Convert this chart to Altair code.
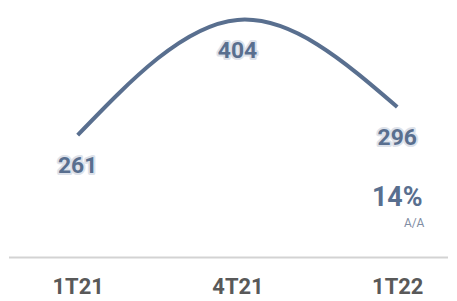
import altair as alt
import pandas as pd

quarters = ["1T21", "4T21", "1T22"]
values = [261, 404, 296]
growth_label = "14%"
growth_sub = "A/A"

df = pd.DataFrame({"q": quarters, "v": values})
last = df.iloc[[-1]].copy()
base_df = pd.DataFrame({"v": [109]})

LINE = "#596f8f"
W, H = 441, 250
YDOM = [109, 418]

x = alt.X("q:N", sort=quarters,
          scale=alt.Scale(type="point", range=[69, 390], padding=0),
          axis=alt.Axis(title=None, domain=False, ticks=False, grid=False,
                        labelAngle=0, labelFont="Roboto", labelFontSize=22,
                        labelFontWeight="bold", labelColor="#595959",
                        labelBaseline="alphabetic", labelPadding=36))
y = alt.Y("v:Q", scale=alt.Scale(domain=YDOM, nice=False, zero=False), axis=None)

baseline = alt.Chart(base_df).mark_rule(color="#d3d3d3", strokeWidth=2).encode(
    y=y, x=alt.value(0), x2=alt.value(W))

line = alt.Chart(df).mark_line(color=LINE, strokeWidth=4, interpolate="natural",
                               strokeCap="butt").encode(x=x, y=y)

halo = alt.Chart(df).mark_text(font="Roboto", fontSize=23, fontWeight="bold",
                               dy=31, stroke="#dde2ea", strokeWidth=4,
                               strokeJoin="round", color="#dde2ea").encode(
    x=x, y=y, text="v:Q")
labels = alt.Chart(df).mark_text(font="Roboto", fontSize=23, fontWeight="bold",
                                 dy=31, color=LINE).encode(x=x, y=y, text="v:Q")

g1 = alt.Chart(last).mark_text(font="Roboto", fontSize=27, fontWeight="bold",
                               dy=92, color=LINE).encode(
    x=x, y=y, text=alt.value(growth_label))
g2 = alt.Chart(last).mark_text(font="Roboto", fontSize=12, dy=117, dx=17,
                               color="#7f8da3").encode(
    x=x, y=y, text=alt.value(growth_sub))

chart = alt.layer(baseline, line, halo, labels, g1, g2).properties(
    width=W, height=H, padding=0
).configure(background="white").configure_view(strokeWidth=0, stroke="transparent")

chart.save("out.html", embed_options={"renderer": "svg", "actions": False})
